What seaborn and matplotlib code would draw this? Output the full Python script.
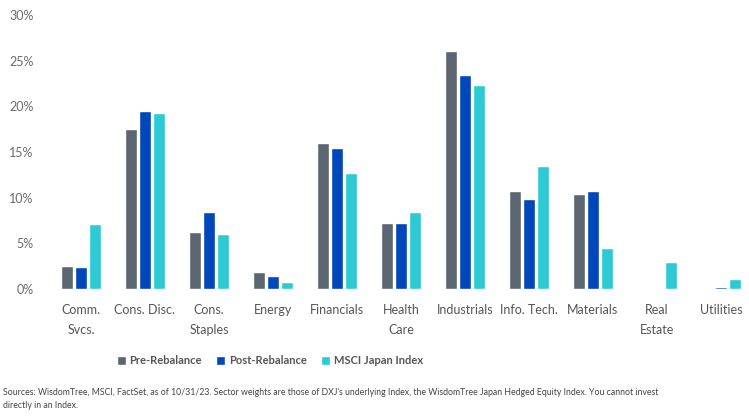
import matplotlib
matplotlib.use("Agg")
import matplotlib.pyplot as plt
import seaborn as sns
import pandas as pd
from matplotlib.ticker import FuncFormatter

sectors = ["Comm.\nSvcs.", "Cons. Disc.", "Cons.\nStaples", "Energy", "Financials",
           "Health\nCare", "Industrials", "Info. Tech.", "Materials", "Real\nEstate", "Utilities"]
pre_rebalance = [2.5, 17.5, 6.2, 1.9, 16.0, 7.2, 26.1, 10.7, 10.4, 0.12, 0.0]
post_rebalance = [2.4, 19.5, 8.4, 1.4, 15.4, 7.2, 23.4, 9.9, 10.7, 0.0, 0.2]
msci_japan = [7.1, 19.3, 6.0, 0.8, 12.7, 8.4, 22.3, 13.5, 4.5, 3.0, 1.1]
series_names = ["Pre-Rebalance", "Post-Rebalance", "MSCI Japan Index"]
colors = ["#5b6670", "#0047bb", "#2ccad4"]
yticks = [0, 5, 10, 15, 20, 25, 30]

rows = []
for name, vals in zip(series_names, [pre_rebalance, post_rebalance, msci_japan]):
    for s, v in zip(sectors, vals):
        rows.append({"Sector": s, "Series": name, "Weight": v})
df = pd.DataFrame(rows)

sns.set_theme(style="white")
plt.rcParams["font.family"] = ["Lato", "DejaVu Sans"]

fig = plt.figure(figsize=(7.49, 4.18), dpi=100)
ax = fig.add_axes([49 / 749, (418 - 289) / 418, 700 / 749, (289 - 15) / 418])

sns.barplot(data=df, x="Sector", y="Weight", hue="Series", hue_order=series_names,
            palette=colors, width=0.66, gap=0.12, ax=ax, saturation=1, legend=True)

ax.set_xlim(-0.5, -0.5 + 700 / 64)
ax.set_ylim(0, 30)
ax.set_yticks(yticks)
ax.yaxis.set_major_formatter(FuncFormatter(lambda v, p: f"{int(v)}%"))
ax.set_xlabel("")
ax.set_ylabel("")
for sp in ax.spines.values():
    sp.set_visible(False)
ax.tick_params(axis="y", length=0, pad=11, labelsize=9, labelcolor="#6b6b6b")
ax.tick_params(axis="x", length=0, pad=11, labelsize=9, labelcolor="#555555")
for lbl in ax.get_xticklabels():
    lbl.set_linespacing(1.8)
    lbl.set_verticalalignment("top")

leg = ax.legend(loc="center", bbox_to_anchor=(270 / 749, 1 - 361 / 418),
                bbox_transform=fig.transFigure, ncol=3, frameon=False,
                handlelength=0.8, handleheight=0.8, handletextpad=0.35, columnspacing=1.3,
                prop={"weight": "bold", "size": 8})
for t in leg.get_texts():
    t.set_color("#555555")

fig.text(3 / 749, 1 - 399 / 418,
         "Sources: WisdomTree, MSCI, FactSet, as of 10/31/23. Sector weights are those of DXJ's underlying Index, the WisdomTree Japan Hedged Equity Index. You cannot invest\ndirectly in an Index.",
         fontsize=6.3, color="#444444", va="center", ha="left", linespacing=1.6)

fig.savefig("out.png", dpi=100)
